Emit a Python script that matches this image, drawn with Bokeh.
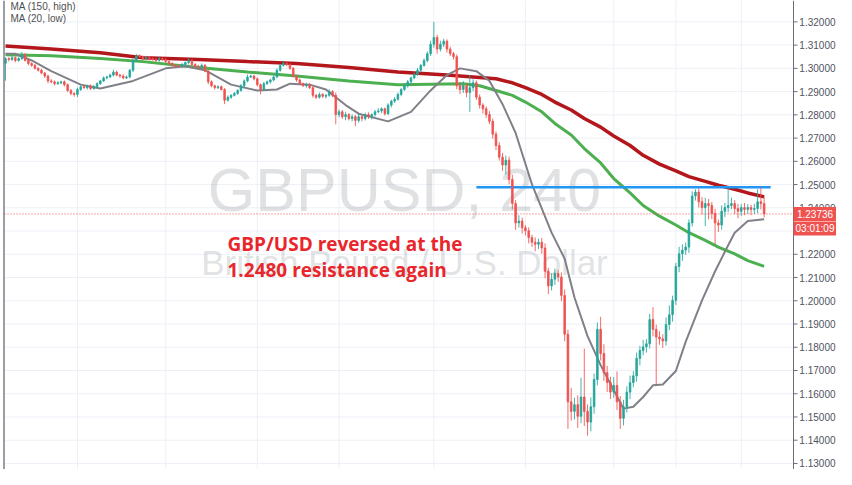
from bokeh.plotting import figure
from bokeh.models import Range1d, ColumnDataSource
from bokeh.embed import file_html
from bokeh.resources import INLINE
from bokeh.core.properties import value

# ---------------- data (GBPUSD, H4) ----------------
first_open = 1.3022
close = [
    1.3042, 1.3038, 1.3046, 1.3034, 1.3042, 1.3059, 1.3034, 1.3021, 1.3013, 1.3000,
    1.2992, 1.2980, 1.2967, 1.2946, 1.2942, 1.2934, 1.2938, 1.2942, 1.2930, 1.2905,
    1.2892, 1.2888, 1.2909, 1.2921, 1.2917, 1.2925, 1.2913, 1.2921, 1.2934, 1.2946,
    1.2959, 1.2963, 1.2971, 1.2984, 1.2971, 1.2967, 1.2959, 1.2963, 1.2992, 1.3034,
    1.3054, 1.3050, 1.3042, 1.3046, 1.3042, 1.3038, 1.3034, 1.3042, 1.3038, 1.3029,
    1.3021, 1.3013, 1.3009, 1.3008, 1.3017, 1.3025, 1.3034, 1.3017, 1.3009, 1.3004,
    1.3013, 1.2988, 1.2942, 1.2925, 1.2917, 1.2921, 1.2909, 1.2863, 1.2876, 1.2884,
    1.2892, 1.2905, 1.2925, 1.2946, 1.2963, 1.2967, 1.2955, 1.2930, 1.2909, 1.2934,
    1.2942, 1.2950, 1.2963, 1.2992, 1.3013, 1.3021, 1.3017, 1.3000, 1.2967, 1.2950,
    1.2934, 1.2925, 1.2930, 1.2917, 1.2884, 1.2876, 1.2888, 1.2880, 1.2884, 1.2900,
    1.2884, 1.2801, 1.2813, 1.2792, 1.2801, 1.2784, 1.2792, 1.2776, 1.2792, 1.2784,
    1.2801, 1.2792, 1.2801, 1.2813, 1.2817, 1.2826, 1.2805, 1.2842, 1.2859, 1.2867,
    1.2888, 1.2909, 1.2925, 1.2942, 1.2959, 1.2975, 1.2992, 1.3013, 1.3034, 1.3063,
    1.3104, 1.3133, 1.3083, 1.3104, 1.3117, 1.3083, 1.3063, 1.3050, 1.2925, 1.2909,
    1.2925, 1.2896, 1.2917, 1.2938, 1.2876, 1.2842, 1.2826, 1.2801, 1.2772, 1.2717,
    1.2668, 1.2618, 1.2584, 1.2605, 1.2522, 1.2418, 1.2335, 1.2343, 1.2314, 1.2301,
    1.2272, 1.2252, 1.2243, 1.2252, 1.2227, 1.2127, 1.2064, 1.2093, 1.2118, 1.2102,
    1.2023, 1.1856, 1.1565, 1.1524, 1.1553, 1.1503, 1.1586, 1.1524, 1.1478, 1.1544,
    1.1661, 1.1877, 1.1773, 1.1690, 1.1648, 1.1607, 1.1636, 1.1565, 1.1494, 1.1544,
    1.1607, 1.1648, 1.1677, 1.1752, 1.1786, 1.1802, 1.1815, 1.1919, 1.1877, 1.1844,
    1.1836, 1.1827, 1.1898, 1.1940, 1.2002, 1.2148, 1.2202, 1.2218, 1.2231, 1.2335,
    1.2451, 1.2468, 1.2426, 1.2401, 1.2418, 1.2410, 1.2376, 1.2335, 1.2326, 1.2385,
    1.2401, 1.2410, 1.2418, 1.2397, 1.2385, 1.2401, 1.2393, 1.2401, 1.2393, 1.2397,
    1.2426, 1.2418, 1.23736,
]
# upper / lower wick lengths in pips
wick_up = [
    5, 6, 8, 5, 6, 12, 8, 6, 5, 6,
    5, 6, 5, 6, 8, 6, 7, 5, 6, 5,
    6, 5, 8, 6, 8, 5, 6, 8, 6, 5,
    6, 5, 6, 10, 6, 5, 8, 6, 5, 6,
    8, 6, 5, 8, 6, 5, 6, 8, 5, 6,
    5, 6, 5, 8, 6, 5, 12, 6, 5, 6,
    8, 6, 5, 6, 5, 6, 5, 6, 8, 5,
    6, 5, 8, 6, 10, 6, 5, 6, 5, 8,
    6, 5, 6, 8, 6, 12, 6, 5, 6, 5,
    6, 5, 8, 6, 5, 6, 8, 5, 6, 10,
    6, 12, 10, 8, 12, 6, 10, 8, 12, 6,
    8, 10, 6, 8, 12, 6, 5, 8, 6, 10,
    8, 6, 10, 8, 6, 8, 10, 6, 8, 10,
    15, 67, 12, 15, 10, 8, 10, 8, 10, 15,
    20, 12, 54, 15, 10, 12, 8, 10, 15, 12,
    12, 15, 18, 20, 15, 20, 15, 25, 15, 12,
    15, 12, 20, 15, 18, 20, 15, 25, 20, 15,
    20, 25, 20, 60, 30, 40, 83, 208, 30, 40,
    25, 30, 54, 40, 30, 25, 35, 60, 25, 30,
    25, 30, 20, 25, 20, 30, 20, 25, 54, 20,
    25, 20, 30, 40, 20, 15, 30, 25, 20, 15,
    20, 12, 15, 20, 25, 20, 15, 20, 15, 25,
    20, 70, 25, 15, 20, 15, 20, 15, 12, 20,
    54, 62, 30,
]
wick_dn = [
    75, 8, 6, 8, 5, 6, 5, 8, 6, 5,
    6, 5, 8, 10, 6, 8, 5, 6, 8, 6,
    8, 10, 12, 6, 5, 8, 6, 5, 6, 5,
    5, 6, 5, 6, 5, 8, 6, 5, 6, 8,
    5, 6, 5, 6, 8, 5, 6, 5, 6, 5,
    6, 5, 8, 6, 5, 6, 8, 6, 5, 8,
    6, 5, 10, 6, 8, 6, 5, 17, 6, 8,
    5, 6, 5, 8, 6, 5, 6, 8, 21, 6,
    5, 8, 6, 5, 6, 5, 8, 6, 5, 8,
    6, 5, 8, 6, 10, 8, 6, 8, 10, 6,
    8, 42, 12, 10, 15, 8, 12, 25, 10, 12,
    8, 10, 12, 8, 6, 10, 8, 6, 10, 8,
    6, 8, 6, 8, 10, 6, 8, 10, 6, 8,
    10, 15, 20, 10, 12, 15, 10, 12, 15, 20,
    15, 20, 83, 15, 12, 15, 20, 15, 12, 20,
    20, 15, 25, 40, 20, 25, 30, 20, 25, 20,
    25, 20, 30, 20, 25, 30, 35, 20, 25, 20,
    25, 30, 116, 40, 35, 50, 30, 63, 58, 40,
    30, 25, 30, 35, 40, 30, 25, 35, 45, 30,
    25, 30, 20, 25, 30, 20, 25, 20, 30, 204,
    25, 30, 20, 25, 30, 20, 25, 30, 20, 25,
    15, 20, 25, 30, 80, 60, 25, 92, 30, 20,
    25, 20, 15, 25, 30, 20, 25, 20, 25, 20,
    20, 25, 15,
]

# moving averages (candle index, price)
ma150_idx = [0, 14, 29, 42, 59, 74, 89, 105, 120, 135, 150, 155, 159, 164, 168, 173, 177, 182, 186,
             191, 195, 200, 205, 209, 214, 218, 223, 227, 232]
ma150_val = [1.3096, 1.3083, 1.3067, 1.3046, 1.3038, 1.3029, 1.3021, 1.3004, 1.2984, 1.2971, 1.2955,
             1.2938, 1.2917, 1.2888, 1.2855, 1.2821, 1.2784, 1.2747, 1.2709, 1.2668, 1.2626, 1.2588,
             1.2559, 1.2534, 1.2514, 1.2497, 1.2480, 1.2464, 1.2447]
ma100_idx = [0, 14, 29, 42, 59, 74, 89, 105, 120, 140, 145, 150, 155, 159, 164, 168, 173, 177, 182,
             186, 191, 195, 200, 205, 209, 214, 218, 223, 227, 232]
ma100_val = [1.3059, 1.3054, 1.3042, 1.3029, 1.3004, 1.2984, 1.2967, 1.2946, 1.2930, 1.2934, 1.2925,
             1.2905, 1.2884, 1.2855, 1.2813, 1.2763, 1.2713, 1.2655, 1.2593, 1.2526, 1.2464, 1.2410,
             1.2364, 1.2326, 1.2293, 1.2260, 1.2231, 1.2202, 1.2173, 1.2148]
ma20_idx = [0, 3, 8, 14, 23, 29, 39, 49, 55, 61, 69, 77, 83, 87, 93, 98, 104, 108, 117, 124, 130, 135,
            139, 144, 148, 152, 156, 161, 167, 171, 174, 178, 182, 186, 189, 192, 195, 198, 201, 205,
            208, 213, 217, 221, 223, 227, 232]
ma20_val = [1.3063, 1.3063, 1.3034, 1.2988, 1.2930, 1.2913, 1.2946, 1.3000, 1.3009, 1.2992, 1.2930,
            1.2905, 1.2909, 1.2934, 1.2930, 1.2909, 1.2842, 1.2805, 1.2772, 1.2813, 1.2905, 1.2971,
            1.3000, 1.2988, 1.2946, 1.2846, 1.2722, 1.2501, 1.2293, 1.2181, 1.2014, 1.1848, 1.1723,
            1.1615, 1.1536, 1.1544, 1.1586, 1.1636, 1.1640, 1.1698, 1.1823, 1.2002, 1.2127, 1.2239,
            1.2293, 1.2343, 1.2351]

resistance = 1.2488
res_from, res_to = 144, 234
last_price = 1.23736
last_price_text = "1.23736"
timer_text = "03:01:09"
price_ticks = [1.13, 1.14, 1.15, 1.16, 1.17, 1.18, 1.19, 1.20, 1.21, 1.22, 1.23,
               1.24, 1.25, 1.26, 1.27, 1.28, 1.29, 1.30, 1.31, 1.32]
date_grid = [22, 49, 77, 102, 131, 159, 186, 205, 225]
legend_lines = ["MA (150, high)", "MA (20, low)"]
title_main = "GBPUSD, 240"
title_sub = "British Pound / U.S. Dollar"
note_lines = ["GBP/USD reversed at the", "1.2480 resistance again"]

# ---------------- layout helpers (pixel -> data) ----------------
W, H = 836, 469
PX = 3.27                      # pixels per candle
X_START = -5 / PX
X_END = X_START + W / PX
Y0, Y1 = 1.1274, 1.3292
PY = (Y1 - Y0) / H


def fx(px):
    return X_START + px / PX


def fy(py):
    return Y1 - py * PY


AXIS_X = fx(793)

# ---------------- build ----------------
pip = 0.0001
n = len(close)
idx = list(range(n))
opn = [first_open] + close[:-1]
high = [max(o, c) + u * pip for o, c, u in zip(opn, close, wick_up)]
low = [min(o, c) - d * pip for o, c, d in zip(opn, close, wick_dn)]
UP, DN = "#26a69a", "#ef5350"
col = [UP if c >= o else DN for o, c in zip(opn, close)]
src = ColumnDataSource(dict(x=idx, top=[max(o, c) for o, c in zip(opn, close)],
                            bottom=[min(o, c) for o, c in zip(opn, close)],
                            high=high, low=low, color=col))

p = figure(width=W, height=H, x_range=Range1d(X_START, X_END), y_range=Range1d(Y0, Y1),
           x_axis_location=None, y_axis_location=None, toolbar_location=None,
           output_backend="svg", min_border=0, outline_line_color=None,
           background_fill_color="white", border_fill_color="white")
p.grid.visible = False

GRID = "#edf0f6"
# grid
p.segment(x0=[fx(4)] * len(price_ticks), y0=price_ticks, x1=[AXIS_X] * len(price_ticks), y1=price_ticks,
          line_color=GRID, line_width=1)
p.segment(x0=date_grid, y0=[Y0] * len(date_grid), x1=date_grid, y1=[Y1] * len(date_grid),
          line_color=GRID, line_width=1)

# watermark
xc = fx(404)
p.text(x=[xc], y=[fy(189)], text=[title_main], text_align="center", text_baseline="middle",
       text_font=value("Liberation Sans"), text_font_size="61px", text_color="#959ca1", text_alpha=0.3)
p.text(x=[xc], y=[fy(262)], text=[title_sub], text_align="center", text_baseline="middle",
       text_font=value("Liberation Sans"), text_font_size="35px", text_color="#959ca1", text_alpha=0.3)

# legend texts
p.text(x=[fx(10)] * 2, y=[fy(6), fy(17.5)], text=legend_lines, text_align="left", text_baseline="middle",
       text_font=value("Liberation Sans"), text_font_size="10px", text_color="#4f4f4f")

# moving averages
p.line(ma100_idx, ma100_val, line_color="#4caf50", line_width=3)
p.line(ma150_idx, ma150_val, line_color="#b3171c", line_width=3.5)
p.line(ma20_idx, ma20_val, line_color="#808089", line_width=2)

# resistance and last price line
p.segment(x0=[res_from], y0=[resistance], x1=[res_to], y1=[resistance], line_color="#2196f3", line_width=2.5)
p.segment(x0=[fx(4)], y0=[last_price], x1=[AXIS_X], y1=[last_price], line_color="#ef5350",
          line_dash="1 2", line_width=1)

# candles
p.segment(x0="x", y0="high", x1="x", y1="low", line_color="color", line_width=1, line_alpha=0.85, source=src)
p.vbar(x="x", top="top", bottom="bottom", width=0.5, fill_color="color", line_color="color",
       line_width=0.8, source=src)

# annotation
p.text(x=[fx(227)] * 2, y=[fy(243), fy(269.5)], text=note_lines, text_align="left", text_baseline="middle",
       text_font=value("Open Sans"), text_font_style="bold", text_font_size="19px", text_color="#e8262b")

# frame left border and price axis
p.segment(x0=[fx(3.5)], y0=[Y0], x1=[fx(3.5)], y1=[Y1], line_color="#7b7e86", line_width=1.5)
p.segment(x0=[AXIS_X], y0=[Y0], x1=[AXIS_X], y1=[Y1], line_color="#6b6e79", line_width=1)
p.segment(x0=[AXIS_X] * len(price_ticks), y0=price_ticks, x1=[fx(797)] * len(price_ticks), y1=price_ticks,
          line_color="#6b6e79", line_width=1)
p.text(x=[fx(835)] * len(price_ticks), y=price_ticks, text=["%.5f" % t for t in price_ticks],
       text_align="right", text_baseline="middle", text_font=value("Liberation Sans"),
       text_font_size="10px", text_color="#50535e")

# last price / timer boxes
p.quad(left=[AXIS_X, AXIS_X], right=[X_END, X_END],
       top=[last_price + 7 * PY, last_price - 7.5 * PY],
       bottom=[last_price - 7 * PY, last_price - 21.5 * PY],
       fill_color="#ef5350", line_color=None)
p.text(x=[fx(814.5)] * 2, y=[last_price, last_price - 14.5 * PY], text=[last_price_text, timer_text],
       text_align="center", text_baseline="middle", text_font=value("Liberation Sans"),
       text_font_size="10px", text_color="white")

open("out.html", "w").write(file_html(p, INLINE))
